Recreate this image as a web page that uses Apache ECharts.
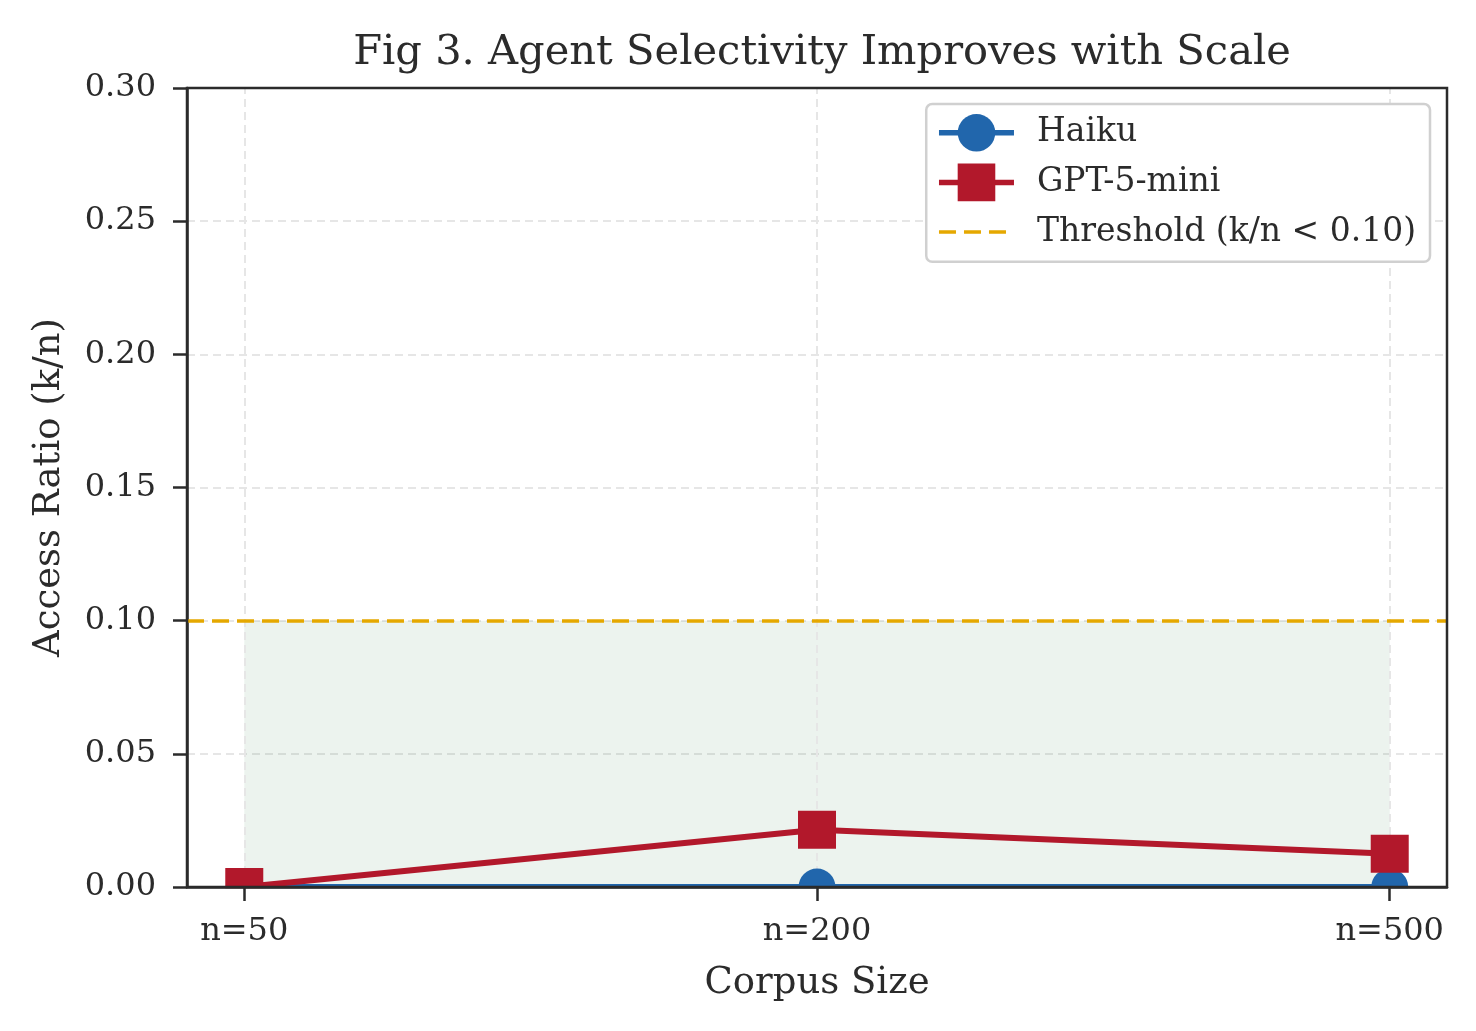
<!DOCTYPE html>
<html>
<head>
<meta charset="utf-8">
<script src="https://cdn.jsdelivr.net/npm/echarts@6/dist/echarts.min.js"></script>
<style>
html,body{margin:0;padding:0;background:#fff;}
#c{width:1476px;height:1031px;}
</style>
</head>
<body>
<div id="c"></div>
<script>
const categories = ['n=50', 'n=200', 'n=500'];
const haiku = [0, 0, 0];
const gpt5mini = [0, 0.0215, 0.0125];
const threshold = 0.10;

const FONT = 'DejaVu Serif';
const TXT = '#2b2b2b';
const xIdx = categories.map((c, i) => i);

const chart = echarts.init(document.getElementById('c'), null, {renderer: 'canvas'});

const option = {
  backgroundColor: '#fff',
  animation: false,
  textStyle: {fontFamily: FONT, color: TXT},
  title: {
    text: 'Fig 3. Agent Selectivity Improves with Scale',
    left: 817, top: 27, textAlign: 'center',
    textStyle: {fontFamily: FONT, fontSize: 41.6, fontWeight: 'normal', color: TXT}
  },
  grid: {
    left: 187, right: 29, top: 88, bottom: 144,
    show: true, borderColor: '#2b2b2b', borderWidth: 2.5, z: 10,
    backgroundColor: 'transparent'
  },
  legend: {
    orient: 'vertical',
    right: 46, top: 104,
    padding: [10, 14, 11, 10],
    itemWidth: 75, itemHeight: 47, itemGap: 12,
    backgroundColor: '#fff',
    borderColor: '#d0d0d0', borderWidth: 2.5, borderRadius: 6,
    lineStyle: {width: 5.5},
    textStyle: {fontFamily: FONT, fontSize: 33, color: TXT, padding: [0, 0, 0, 18]},
    data: [
      {name: 'Haiku'},
      {name: 'GPT-5-mini'},
      {name: 'Threshold (k/n < 0.10)', itemStyle: {opacity: 0}, lineStyle: {width: 3.5}}
    ],
    z: 20
  },
  xAxis: {
    type: 'value', min: -0.1, max: 2.1,
    name: 'Corpus Size', nameLocation: 'middle', nameGap: 78,
    nameTextStyle: {fontFamily: FONT, fontSize: 37, color: TXT},
    axisLine: {show: true, onZero: false, lineStyle: {color: '#2b2b2b', width: 2.5}},
    axisTick: {show: true, customValues: xIdx, length: 14, lineStyle: {color: '#2b2b2b', width: 2.5}},
    axisLabel: {customValues: xIdx, margin: 29, fontFamily: FONT, fontSize: 32, color: TXT,
      formatter: v => categories[Math.round(v)]},
    splitLine: {show: false},
    z: 12
  },
  yAxis: {
    type: 'value', min: 0, max: 0.3, interval: 0.05,
    name: 'Access Ratio (k/n)', nameLocation: 'middle', nameGap: 119,
    nameTextStyle: {fontFamily: FONT, fontSize: 37, color: TXT},
    axisLine: {show: true, onZero: false, lineStyle: {color: '#2b2b2b', width: 2.5}},
    axisTick: {show: true, length: 14, lineStyle: {color: '#2b2b2b', width: 2.5}},
    axisLabel: {margin: 31, fontFamily: FONT, fontSize: 32, color: TXT,
      formatter: v => v.toFixed(2)},
    splitLine: {show: true, lineStyle: {color: '#e6e6e6', width: 2, type: [8, 5]}},
    z: 0
  },
  series: [
    {
      name: '_grid', type: 'line', data: [], silent: true, z: 1,
      markLine: {
        silent: true, symbol: 'none', label: {show: false}, z: 1,
        lineStyle: {color: '#e6e6e6', width: 2, type: [8, 5]},
        data: xIdx.map(i => ({xAxis: i}))
      },
      markArea: {
        silent: true, z: 1,
        itemStyle: {color: 'rgba(44,120,70,0.09)'},
        data: [[{xAxis: xIdx[0], yAxis: 0}, {xAxis: xIdx[xIdx.length - 1], yAxis: threshold}]]
      }
    },
    {
      name: 'Haiku', type: 'line', z: 3,
      data: haiku.map((v, i) => [i, v]),
      symbol: 'circle', symbolSize: 37,
      lineStyle: {color: '#2166ac', width: 6},
      itemStyle: {color: '#2166ac'},
      clip: false
    },
    {
      name: 'GPT-5-mini', type: 'line', z: 4,
      data: gpt5mini.map((v, i) => [i, v]),
      symbol: 'rect', symbolSize: 38,
      lineStyle: {color: '#b2182b', width: 6},
      itemStyle: {color: '#b2182b'},
      clip: false
    },
    {
      name: 'Threshold (k/n < 0.10)', type: 'line', data: [], z: 5,
      symbol: 'none',
      lineStyle: {color: '#e5a800', width: 3.5, type: [17, 8]},
      itemStyle: {color: '#e5a800'},
      markLine: {
        silent: true, symbol: 'none', label: {show: false}, z: 5,
        lineStyle: {color: '#e5a800', width: 3.5, type: [17, 8]},
        data: [{yAxis: threshold}]
      }
    }
  ]
};
chart.setOption(option);

// white band just below the plot so markers are clipped at the axes like the reference
const y0 = chart.convertToPixel({yAxisIndex: 0}, 0);
const xl = chart.convertToPixel({xAxisIndex: 0}, -0.1);
const xr = chart.convertToPixel({xAxisIndex: 0}, 2.1);
chart.setOption({
  graphic: [{
    type: 'rect', z: 8,
    shape: {x: xl + 2, y: y0 + 1.3, width: (xr - xl) - 2, height: 25},
    style: {fill: '#fff'}
  }]
});
</script>
</body>
</html>
